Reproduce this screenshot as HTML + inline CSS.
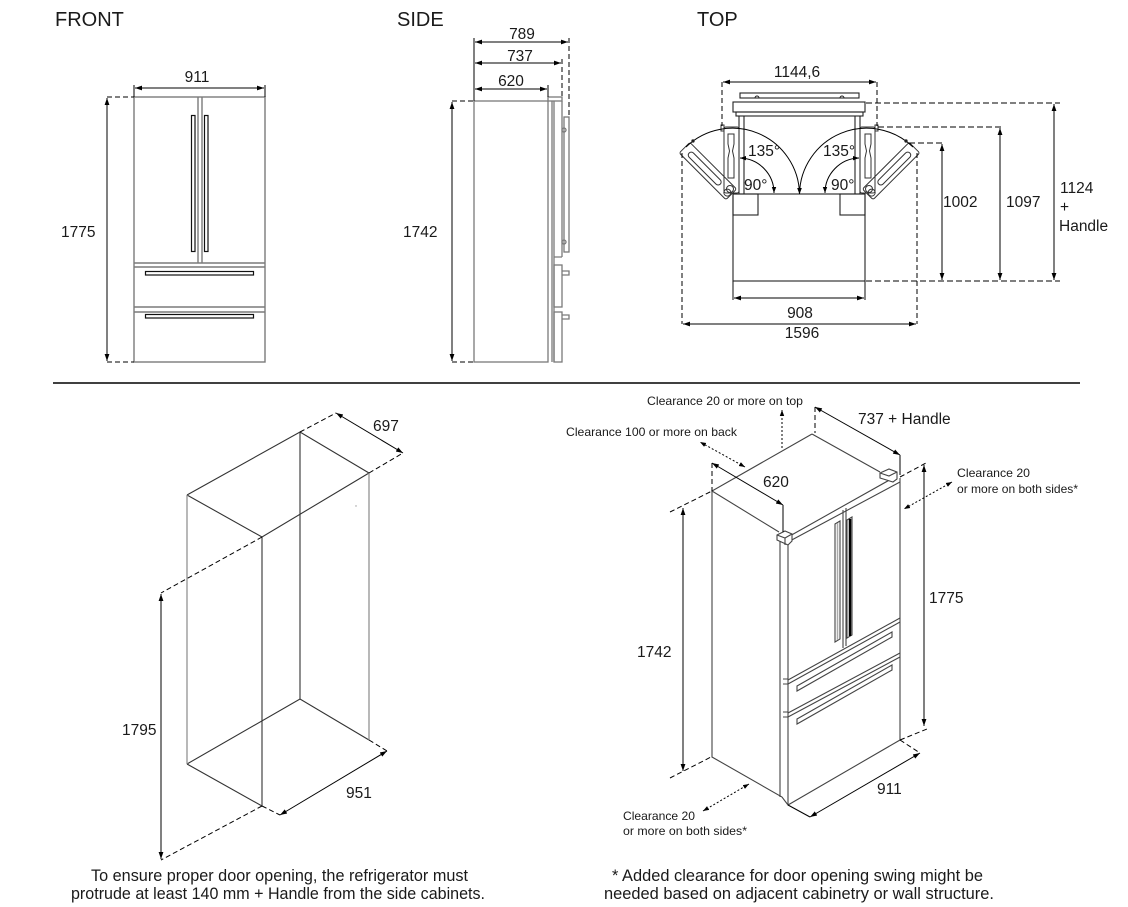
<!DOCTYPE html>
<html><head><meta charset="utf-8"><style>
html,body{margin:0;padding:0;background:#fff;}
svg{display:block;}
text{font-family:"Liberation Sans",Arial,sans-serif;fill:#1a1a1a;}
</style></head><body>
<svg width="1128" height="907" viewBox="0 0 1128 907" xmlns="http://www.w3.org/2000/svg">
<defs>
<marker id="a" markerWidth="8" markerHeight="6" refX="7" refY="3" orient="auto-start-reverse" markerUnits="userSpaceOnUse"><path d="M0,0.6 L7,3 L0,5.4 z" fill="#000"/></marker>
<marker id="s" markerWidth="7" markerHeight="6" refX="6" refY="3" orient="auto-start-reverse" markerUnits="userSpaceOnUse"><path d="M0,0.8 L6,3 L0,5.2 z" fill="#000"/></marker>
</defs>

<!-- ============ FRONT ============ -->
<text x="55" y="26" font-size="20">FRONT</text>
<g fill="none" stroke="#7a7a7a" stroke-width="1.4">
<rect x="134" y="97" width="131" height="265"/>
<path d="M134 263H265 M198 97V263 M202 97V263 M134 267H265 M134 307H265 M134 312H265"/>
</g>
<g fill="none" stroke="#111" stroke-width="1.2">
<rect x="191.5" y="115.5" width="3.5" height="136"/>
<rect x="204.5" y="115.5" width="3.5" height="136"/>
<rect x="145.5" y="271.5" width="108" height="3.5"/>
<rect x="145.5" y="314.5" width="108" height="3.5"/>
</g>
<g stroke="#000" stroke-width="1" fill="none">
<line x1="135" y1="88" x2="264" y2="88" marker-start="url(#a)" marker-end="url(#a)"/>
<path d="M134 85V97 M265 85V97"/>
<line x1="107" y1="98" x2="107" y2="361" marker-start="url(#a)" marker-end="url(#a)"/>
<path d="M107 97H134 M107 362H134" stroke-dasharray="5,3"/>
</g>
<text x="197" y="82" font-size="15.5" text-anchor="middle">911</text>
<text x="61" y="237" font-size="15.5">1775</text>

<!-- ============ SIDE ============ -->
<text x="397" y="26" font-size="20">SIDE</text>
<g fill="none" stroke="#7a7a7a" stroke-width="1.3">
<rect x="474" y="101" width="74" height="261"/>
<rect x="548" y="97" width="14" height="4"/>
<path d="M552 101V362 M554 101V362 M562 101V257 M554 257H562"/>
<rect x="554" y="265" width="8" height="42"/>
<rect x="554" y="312" width="8" height="50"/>
<rect x="564" y="117" width="5" height="135"/>
<circle cx="564" cy="130" r="2"/>
<circle cx="564" cy="242" r="2"/>
<path d="M562 271H569V275H562 M562 315H569V319H562"/>
</g>
<g stroke="#000" stroke-width="1" fill="none">
<path d="M474 38V101"/>
<line x1="475" y1="42" x2="568" y2="42" marker-start="url(#a)" marker-end="url(#a)"/>
<path d="M569 38V117" stroke-dasharray="5,3"/>
<line x1="475" y1="63" x2="561" y2="63" marker-start="url(#a)" marker-end="url(#a)"/>
<path d="M562 59V97" stroke-dasharray="5,3"/>
<line x1="475" y1="89" x2="547" y2="89" marker-start="url(#a)" marker-end="url(#a)"/>
<path d="M548 85V97"/>
<line x1="452" y1="102" x2="452" y2="361" marker-start="url(#a)" marker-end="url(#a)"/>
<path d="M452 101H474 M452 362H474" stroke-dasharray="5,3"/>
</g>
<text x="522" y="39" font-size="15.5" text-anchor="middle">789</text>
<text x="520" y="61" font-size="15.5" text-anchor="middle">737</text>
<text x="511" y="86" font-size="15.5" text-anchor="middle">620</text>
<text x="403" y="237" font-size="15.5">1742</text>

<!-- ============ TOP ============ -->
<text x="697" y="26" font-size="20">TOP</text>
<g fill="none" stroke="#222" stroke-width="1.1">
<rect x="740" y="93" width="119" height="5"/>
<path d="M755 98 a2 2 0 0 1 4 0 M840 98 a2 2 0 0 1 4 0"/>
<rect x="733" y="102" width="132" height="10"/>
<rect x="736" y="112" width="127" height="4"/>
<path d="M739 116V194 M744 116V194 M855 116V194 M860 116V194"/>
<rect x="733" y="194" width="132" height="87"/>
<path d="M733 281V300 M865 281V300"/>
<rect x="733" y="194" width="25" height="21"/>
<rect x="840" y="194" width="25" height="21"/>
</g>
<!-- left door set -->
<g id="dl" fill="none" stroke="#333" stroke-width="1">
<rect x="724" y="127" width="15" height="66" rx="2"/>
<path d="M728 134 h6 v10 l-1.5 7 l1.5 7 v20 h-6 v-20 l1.5 -7 l-1.5 -7 z"/>
<circle cx="730" cy="189" r="3.5"/>
<g transform="rotate(-45 733 194)">
<rect x="724" y="127" width="15" height="66" rx="2"/>
<rect x="728" y="134" width="6" height="44" rx="3"/>
<circle cx="730" cy="189" r="3.5"/>
</g>
<rect x="721" y="125" width="3" height="6"/>
<path d="M722 82V126" stroke="#000" stroke-dasharray="5,3"/>
<path d="M682 153V324" stroke="#000" stroke-dasharray="5,3"/>
<path d="M686 147 A67 67 0 0 1 799.5 194" stroke="#000" marker-end="url(#s)"/>
<path d="M740 158 A35 35 0 0 1 774 193" stroke="#000" marker-start="url(#s)" marker-end="url(#s)"/>
<circle cx="693" cy="141" r="1.2" fill="#000"/>
</g>
<g transform="translate(1599,0) scale(-1,1)" fill="none" stroke="#333" stroke-width="1">
<rect x="724" y="127" width="15" height="66" rx="2"/>
<path d="M728 134 h6 v10 l-1.5 7 l1.5 7 v20 h-6 v-20 l1.5 -7 l-1.5 -7 z"/>
<circle cx="730" cy="189" r="3.5"/>
<g transform="rotate(-45 733 194)">
<rect x="724" y="127" width="15" height="66" rx="2"/>
<rect x="728" y="134" width="6" height="44" rx="3"/>
<circle cx="730" cy="189" r="3.5"/>
</g>
<rect x="721" y="125" width="3" height="6"/>
<path d="M722 82V126" stroke="#000" stroke-dasharray="5,3"/>
<path d="M682 153V324" stroke="#000" stroke-dasharray="5,3"/>
<path d="M686 147 A67 67 0 0 1 799.5 194" stroke="#000" marker-end="url(#s)"/>
<path d="M740 158 A35 35 0 0 1 774 193" stroke="#000" marker-start="url(#s)" marker-end="url(#s)"/>
<circle cx="693" cy="141" r="1.2" fill="#000"/>
</g>
<g stroke="#000" stroke-width="1" fill="none">
<line x1="723" y1="82" x2="876" y2="82" marker-start="url(#a)" marker-end="url(#a)"/>
<line x1="734" y1="298" x2="864" y2="298" marker-start="url(#a)" marker-end="url(#a)"/>
<line x1="683" y1="324" x2="916" y2="324" marker-start="url(#a)" marker-end="url(#a)"/>
<path d="M866 103H1060 M878 127H1003 M909 143H944 M866 281H1060" stroke-dasharray="6,3"/>
<line x1="942" y1="144" x2="942" y2="280" marker-start="url(#a)" marker-end="url(#a)"/>
<line x1="1000" y1="128" x2="1000" y2="280" marker-start="url(#a)" marker-end="url(#a)"/>
<line x1="1054" y1="104" x2="1054" y2="280" marker-start="url(#a)" marker-end="url(#a)"/>
</g>
<text x="797" y="77" font-size="15.5" text-anchor="middle">1144,6</text>
<text x="748" y="156" font-size="15.5">135°</text>
<text x="744" y="190" font-size="15.5">90°</text>
<text x="823" y="156" font-size="15.5">135°</text>
<text x="831" y="190" font-size="15.5">90°</text>
<text x="800" y="318" font-size="15.5" text-anchor="middle">908</text>
<text x="802" y="338" font-size="15.5" text-anchor="middle">1596</text>
<text x="943" y="207" font-size="15.5">1002</text>
<text x="1006" y="207" font-size="15.5">1097</text>
<text x="1060" y="193" font-size="15.5">1124</text>
<text x="1060" y="212" font-size="15.5">+</text>
<text x="1059" y="231" font-size="15.5">Handle</text>

<!-- divider -->
<line x1="53" y1="383" x2="1080" y2="383" stroke="#000" stroke-width="1.6"/>

<!-- ============ CABINET (bottom-left) ============ -->
<g fill="none" stroke="#333" stroke-width="1.1">
<path d="M187 495L300 432L369 473 M187 495L262 537L369 473"/>
<path d="M300 432V699 M262 537V806"/>
<path d="M187 764L300 699L369 740 M187 764L262 806"/>
</g>
<g fill="none" stroke="#8a8a8a" stroke-width="1.2">
<path d="M187 495V764 M369 473V740"/>
</g>
<g stroke="#000" stroke-width="1" fill="none">
<path d="M300 432L336 413 M369 473L403 453 M262 537L161 593 M262 806L161 860 M262 806L280 815 M369 740L387 751" stroke-dasharray="5,3"/>
<line x1="336" y1="413" x2="403" y2="453" marker-start="url(#a)" marker-end="url(#a)"/>
<line x1="161" y1="594" x2="161" y2="859" marker-start="url(#a)" marker-end="url(#a)"/>
<line x1="280" y1="815" x2="387" y2="751" marker-start="url(#a)" marker-end="url(#a)"/>
</g>
<circle cx="356" cy="506" r="0.7" fill="#999"/>
<text x="373" y="431" font-size="15.5">697</text>
<text x="122" y="735" font-size="15.5">1795</text>
<text x="346" y="798" font-size="15.5">951</text>

<!-- ============ FRIDGE ISO (bottom-right) ============ -->
<g fill="none" stroke="#444" stroke-width="1.1">
<path d="M812 434L712 491L779 532 M812 434L880 472"/>
<path d="M712 491V757L782 797L788 805L900 740V478"/>
<path d="M780 540V797 M788 543V805"/>
<path d="M788 537L893 478 M788 542L900 482"/>
<path d="M777 535L785 531L792 534L792 541L788 545L777 540Z" fill="#fff"/>
<path d="M777 535L785 538L792 534 M785 538V545"/>
<path d="M880 473L889 469L897 472L897 479L893 482L880 478Z" fill="#fff"/>
<path d="M880 473L889 476L897 472"/>
<path d="M843 510V648 M846 508V646"/>
<path d="M835 524L840 521V639L835 642Z"/>
<path d="M847 520L852 517V635L847 638Z"/>
<path d="M788 680L900 618 M788 684L900 622 M783 679H788 M783 684H788"/>
<path d="M788 713L900 653 M788 717L900 657 M783 712H788 M783 717H788"/>
<path d="M797 686L892 632L892 637L797 691Z"/>
<path d="M797 719L892 665L892 670L797 724Z"/>
</g>
<line x1="850" y1="519" x2="850" y2="636" stroke="#000" stroke-width="2.5"/>
<line x1="837.5" y1="523" x2="837.5" y2="640" stroke="#aaa" stroke-width="1.5"/>
<g stroke="#000" stroke-width="1" fill="none">
<path d="M815 407V433 M712 463V491 M670 512L712 491 M670 778L711 757 M900 477L926 463 M900 740L927 729 M900 740L920 753" stroke-dasharray="5,3"/>
<path d="M900 455V475 M783 505V532 M788 805L810 817"/>
<line x1="815" y1="407" x2="900" y2="455" marker-start="url(#a)" marker-end="url(#a)"/>
<line x1="712" y1="463" x2="783" y2="505" marker-start="url(#a)" marker-end="url(#a)"/>
<line x1="683" y1="508" x2="683" y2="771" marker-start="url(#a)" marker-end="url(#a)"/>
<line x1="924" y1="465" x2="924" y2="726" marker-start="url(#a)" marker-end="url(#a)"/>
<line x1="810" y1="817" x2="920" y2="753" marker-start="url(#a)" marker-end="url(#a)"/>
<g stroke-dasharray="2,2">
<line x1="782" y1="448" x2="782" y2="410" marker-end="url(#s)"/>
<line x1="745" y1="467" x2="700" y2="442" marker-start="url(#s)" marker-end="url(#s)"/>
<line x1="952" y1="482" x2="904" y2="509" marker-start="url(#s)" marker-end="url(#s)"/>
<line x1="703" y1="811" x2="749" y2="784" marker-start="url(#s)" marker-end="url(#s)"/>
</g>
</g>
<text x="647" y="405" font-size="12" textLength="156" lengthAdjust="spacingAndGlyphs">Clearance 20 or more on top</text>
<text x="566" y="436" font-size="12" textLength="171" lengthAdjust="spacingAndGlyphs">Clearance 100 or more on back</text>
<text x="858" y="424" font-size="15.5">737 + Handle</text>
<text x="763" y="487" font-size="15.5">620</text>
<text x="637" y="657" font-size="15.5">1742</text>
<text x="929" y="603" font-size="15.5">1775</text>
<text x="877" y="794" font-size="15.5">911</text>
<text x="957" y="477" font-size="12" textLength="73" lengthAdjust="spacingAndGlyphs">Clearance 20</text>
<text x="957" y="493" font-size="12" textLength="121" lengthAdjust="spacingAndGlyphs">or more on both sides*</text>
<text x="623" y="820" font-size="12" textLength="72" lengthAdjust="spacingAndGlyphs">Clearance 20</text>
<text x="623" y="835" font-size="12" textLength="124" lengthAdjust="spacingAndGlyphs">or more on both sides*</text>

<!-- footer -->
<text x="91" y="881" font-size="16.5" textLength="377" lengthAdjust="spacingAndGlyphs">To ensure proper door opening, the refrigerator must</text>
<text x="71" y="899" font-size="16.5" textLength="414" lengthAdjust="spacingAndGlyphs">protrude at least 140 mm + Handle from the side cabinets.</text>
<text x="612" y="881" font-size="16.5" textLength="371" lengthAdjust="spacingAndGlyphs">* Added clearance for door opening swing might be</text>
<text x="604" y="899" font-size="16.5" textLength="390" lengthAdjust="spacingAndGlyphs">needed based on adjacent cabinetry  or wall structure.</text>
</svg>
</body></html>
